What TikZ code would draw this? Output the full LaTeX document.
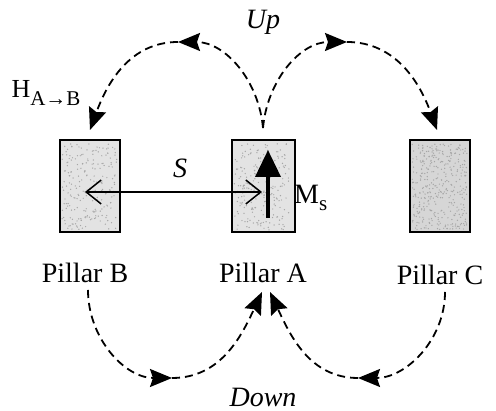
\documentclass[tikz,border=0pt]{standalone}
\usepackage{fontspec}
\setmainfont{Liberation Serif}
\usetikzlibrary{arrows.meta,positioning,calc}
\newcommand{\lowsub}[1]{\raisebox{-0.28em}{\fontsize{21}{21}\selectfont #1}}

\begin{document}
\begin{tikzpicture}[x=1pt, y=1pt,
  pillar/.style={draw, line width=1.8pt, minimum width=60pt, minimum height=92pt, inner sep=0pt},
  hop/.style={dash pattern=on 8pt off 5pt, line width=1.8pt, -{Stealth[length=22pt,width=18pt,inset=3pt]}},
  lbl/.style={font=\fontsize{28}{32}\selectfont, inner sep=0pt}]
  \useasboundingbox (0,0) rectangle (496,411);
  \pgfmathsetseed{7}
  % pillars
  \node[pillar, fill=gray!22] (pb) at (90,225) {};
  \node[pillar, fill=gray!22, minimum width=63pt] (pa) at (263.5,225) {};
  \node[pillar, fill=gray!32] (pc) at (440,225) {};
  \foreach \p/\n in {pb/220,pa/220,pc/380} {
    \foreach \k in {1,...,\n}
      \fill[gray!70] ($(\p.south west)+(3+55*rnd,3+86*rnd)$) circle (0.7pt);
  }
  \node[lbl] (lb) at (85,138) {Pillar B};
  \node[lbl] (la) at (263,138) {Pillar A};
  \node[lbl] (lc) at (440,136) {Pillar C};
  % separation and moment
  \coordinate (sb) at (85,219);
  \coordinate (sa) at (262,219);
  \draw[line width=1.5pt, {Straight Barb[length=15pt,width=24pt]}-{Straight Barb[length=15pt,width=24pt]}] (sb) -- (sa);
  \node[lbl, font=\fontsize{28}{32}\selectfont\itshape] (s) at (180,243) {S};
  \coordinate (mfoot) at (268,193);
  \coordinate (mtip) at (268,261);
  \draw[line width=3.8pt, -{Triangle[length=27pt,width=25pt]}] (mfoot) -- (mtip);
  \node[lbl, anchor=west] (ms) at (294,213) {M\lowsub{s}};
  % hops up
  \coordinate (atop) at (263,283);
  \coordinate (btop) at (90,281);
  \coordinate (ctop) at (437,281);
  \coordinate (upl) at (178,369);
  \coordinate (upr) at (347,369);
  \draw[hop] (atop) to[out=95, in=0] (upl);
  \draw[hop] (upl) to[out=180, in=70] (btop);
  \draw[hop] (atop) to[out=85, in=180] (upr);
  \draw[hop] (upr) to[out=0, in=110] (ctop);
  \node[lbl, font=\fontsize{28}{32}\selectfont\itshape] (up) at (263,389) {Up};
  \node[lbl, font=\fontsize{26}{30}\selectfont] (h) at (46,318) {H\lowsub{A→B}};
  % hops down
  \coordinate (bbot) at (88,121);
  \coordinate (abotl) at (262,119);
  \coordinate (abotr) at (270,119);
  \coordinate (cbot) at (445,119);
  \coordinate (dnl) at (172,33);
  \coordinate (dnr) at (358,33);
  \draw[hop] (bbot) to[out=-90, in=180] (dnl);
  \draw[hop] (dnl) to[out=0, in=-115] (abotl);
  \draw[hop] (cbot) to[out=-90, in=0] (dnr);
  \draw[hop] (dnr) to[out=180, in=-65] (abotr);
  \node[lbl, font=\fontsize{28}{32}\selectfont\itshape] (down) at (263,14) {Down};
\end{tikzpicture}
\end{document}
